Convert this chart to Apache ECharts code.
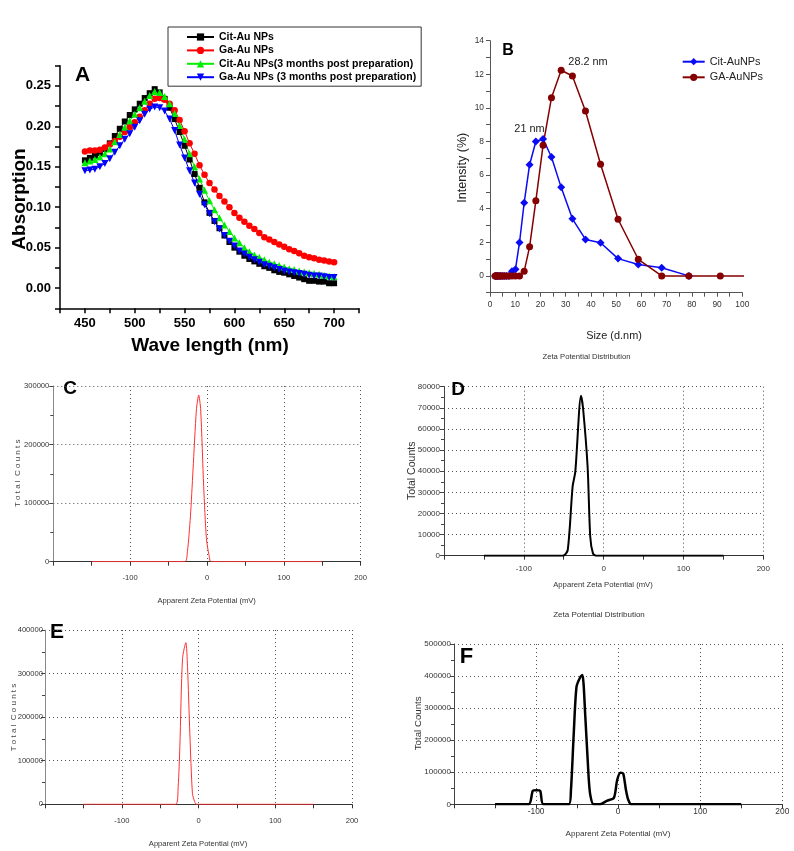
<!DOCTYPE html>
<html><head><meta charset="utf-8">
<script src="https://cdn.jsdelivr.net/npm/echarts@6/dist/echarts.min.js"></script>
<style>html,body{margin:0;padding:0;background:#fff}#c{width:794px;height:851px}</style>
</head><body><div id="c"></div>
<script>
// ---------- Panel A : UV-Vis absorption ----------
const wavelength = [450,455,460,465,470,475,480,485,490,495,500,505,510,515,520,525,530,535,540,545,550,555,560,565,570,575,580,585,590,595,600,605,610,615,620,625,630,635,640,645,650,655,660,665,670,675,680,685,690,695,700];
const absCitAu = [0.158,0.161,0.164,0.167,0.172,0.179,0.188,0.197,0.206,0.214,0.221,0.228,0.235,0.241,0.246,0.242,0.234,0.223,0.209,0.193,0.176,0.159,0.141,0.124,0.106,0.093,0.083,0.074,0.065,0.057,0.050,0.045,0.040,0.036,0.033,0.030,0.027,0.025,0.022,0.020,0.019,0.017,0.015,0.013,0.011,0.009,0.009,0.008,0.008,0.006,0.006];
const absGaAu = [0.169,0.170,0.170,0.171,0.174,0.178,0.182,0.187,0.193,0.199,0.205,0.212,0.220,0.228,0.234,0.235,0.233,0.228,0.220,0.208,0.194,0.179,0.166,0.152,0.140,0.130,0.122,0.114,0.107,0.100,0.093,0.087,0.082,0.077,0.073,0.068,0.063,0.060,0.057,0.054,0.051,0.048,0.046,0.043,0.040,0.038,0.037,0.035,0.034,0.033,0.032];
const absCitAu3m = [0.155,0.157,0.159,0.162,0.166,0.172,0.181,0.190,0.199,0.207,0.215,0.223,0.231,0.238,0.243,0.242,0.237,0.228,0.216,0.201,0.184,0.166,0.150,0.135,0.121,0.108,0.097,0.087,0.078,0.070,0.062,0.056,0.050,0.045,0.041,0.038,0.035,0.032,0.030,0.028,0.026,0.024,0.023,0.021,0.020,0.019,0.018,0.017,0.016,0.015,0.014];
const absGaAu3m = [0.145,0.146,0.147,0.150,0.154,0.160,0.168,0.176,0.184,0.191,0.199,0.207,0.215,0.221,0.224,0.223,0.219,0.209,0.195,0.177,0.161,0.145,0.130,0.116,0.103,0.092,0.082,0.073,0.065,0.058,0.052,0.046,0.042,0.038,0.035,0.032,0.029,0.027,0.025,0.023,0.021,0.020,0.019,0.018,0.017,0.016,0.015,0.015,0.014,0.013,0.013];
const namesA = ['Cit-Au NPs','Ga-Au NPs','Cit-Au NPs(3 months post preparation)','Ga-Au NPs (3 months post preparation)'];

// ---------- Panel B : DLS size distribution ----------
const dlsSize = [2.01,2.328,2.696,3.122,3.615,4.187,4.849,5.615,6.503,7.531,8.721,10.1,11.7,13.54,15.69,18.17,21.04,24.36,28.21,32.67,37.84,43.82,50.75,58.77,68.06,78.82,91.28,105.7];
const dlsCit = [0,0,0,0,0,0,0,0,0,0,0.28,0.4,1.99,4.35,6.62,8.0,8.15,7.08,5.27,3.4,2.17,1.97,1.03,0.68,0.48,0,null,null];
const dlsGA  = [0,0,0,0,0,0,0,0,0,0,0,0,0,0.27,1.73,4.47,7.78,10.6,12.24,11.9,9.82,6.65,3.37,0.99,0,0,0,0];
const namesB = ['Cit-AuNPs','GA-AuNPs'];

// ---------- Panels C-F : zeta potential ----------
const zetaC_mV     = [-150,-29,-25.5,-21.6,-18.2,-13.8,-10.8,-8.2,-4.3,-0.8,2.6,5.6,150];
const zetaC_counts = [0,0,17000,76800,156500,259000,284500,259000,128000,40000,11500,0,0];
const zetaD_mV     = [-150,-51,-45,-38.9,-35.5,-28.4,-25.8,-20.1,-16.8,-13.4,-9.6,150];
const zetaD_counts = [0,0,2700,32700,39800,75700,69800,42100,9000,1100,0,0];
const zetaE_mV     = [-150,-29.5,-26.5,-24.3,-20.8,-16.5,-14.3,-11.3,-7.9,-5,-2.4,150];
const zetaE_counts = [0,0,40000,132000,335000,371000,316000,163000,25000,6000,0,0];
const zetaF_mV     = [-150,-109,-104,-99.5,-95,-91,-60,-57.5,-54.1,-50.7,-45.9,-43.5,-40,-36,-34,-30,-22,-13.9,-5.2,-1.2,2.9,6.2,9.5,12.3,16,150];
const zetaF_counts = [0,0,42000,44000,42000,0,0,44600,221000,366800,398000,403000,273000,86000,30000,0,0,11000,20000,75800,98600,96000,44600,14000,0,0];

const zip = (xs, ys) => xs.map((x, i) => [x, ys[i]]);

const ARIAL = '"Liberation Sans", Arial, sans-serif';
// pick a narrow font if one is installed, otherwise scale Liberation Sans down to the same widths
function fontExists(fam){
  const c = document.createElement('canvas').getContext('2d');
  const s = 'Apparent Zeta Potential 0123456789';
  c.font = '20px monospace'; const w0 = c.measureText(s).width;
  c.font = '20px ' + fam + ', monospace'; const w1 = c.measureText(s).width;
  return Math.abs(w1 - w0) > 0.5;
}
let NARROW, NS;
if (fontExists('"Liberation Sans Narrow"')) { NARROW = '"Liberation Sans Narrow", sans-serif'; NS = 1; }
else { NARROW = ARIAL; NS = 0.84; }
const nf = s => Math.round(s * NS * 10) / 10;

function zetaX(grid, margin, fs){
  return {gridIndex:grid, type:'value', min:-200, max:200, interval:100,
    axisLine:{onZero:false, lineStyle:{color:'#333', width:1}},
    axisTick:{length:4, lineStyle:{color:'#333'}},
    minorTick:{show:true, splitNumber:2, length:4, lineStyle:{color:'#333'}},
    axisLabel:{formatter:v => v === -200 ? '' : String(v), fontFamily:NARROW, fontSize:nf(fs), color:'#333', margin:margin},
    splitLine:{show:true, lineStyle:{type:[1,3], color:'#555', width:1}}};
}
function zetaY(grid, max, interval, margin, fs, axisColor){
  return {gridIndex:grid, type:'value', min:0, max:max, interval:interval,
    axisLine:{show:true, onZero:false, lineStyle:{color:axisColor, width:1}},
    axisTick:{show:true, length:4, lineStyle:{color:'#444'}},
    minorTick:{show:true, splitNumber:2, length:3, lineStyle:{color:'#444'}},
    axisLabel:{formatter:v => String(v), fontFamily:NARROW, fontSize:nf(fs), color:'#333', margin:margin},
    splitLine:{show:true, lineStyle:{type:[1,3], color:'#555', width:1}}};
}
function txt(text, x, y, font, opts){
  opts = opts || {};
  return {type:'text', x:x, y:y, rotation:opts.rot || 0, silent:true,
    style:{text:text, font:font, fill:opts.fill || '#000', textAlign:'center', textVerticalAlign:'middle'}};
}
const nfont = s => nf(s) + 'px ' + NARROW;

const chart = echarts.init(document.getElementById('c'), null, {renderer:'canvas'});
const option = {
  backgroundColor:'#fff',
  animation:false,
  grid:[
    {left:60, top:65.7, width:299, height:242.6, outerBoundsMode:'none'},
    {left:490, top:40.7, width:252.3, height:252, outerBoundsMode:'none'},
    {left:53.3, top:386, width:307.4, height:175.7, outerBoundsMode:'none'},
    {left:444, top:386.7, width:319.3, height:169, outerBoundsMode:'none'},
    {left:45, top:630, width:307, height:174.3, outerBoundsMode:'none'},
    {left:454, top:644, width:328.3, height:160.3, outerBoundsMode:'none'}
  ],
  xAxis:[
    {gridIndex:0, type:'value', min:425, max:725, interval:25,
      axisLine:{onZero:false, lineStyle:{color:'#000', width:1.5}},
      axisTick:{length:5, lineStyle:{color:'#000', width:1.5}},
      axisLabel:{formatter:v => (v % 50 === 0) ? String(v) : '', fontFamily:ARIAL, fontWeight:'bold', fontSize:13, color:'#000', margin:9},
      splitLine:{show:false}},
    {gridIndex:1, type:'value', min:0, max:100, interval:5,
      axisLine:{onZero:false, lineStyle:{color:'#555', width:1}},
      axisTick:{length:4, lineStyle:{color:'#555'}},
      axisLabel:{formatter:v => (v % 10 === 0) ? String(v) : '', fontFamily:NARROW, fontSize:nf(10), color:'#333', margin:8},
      splitLine:{show:false}},
    zetaX(2, 12, 9),
    zetaX(3, 9, 9.5),
    zetaX(4, 13, 9),
    zetaX(5, 3, 10)
  ],
  yAxis:[
    {gridIndex:0, type:'value', min:-0.025, max:0.275, interval:0.025,
      axisLine:{show:true, onZero:false, lineStyle:{color:'#000', width:1.5}},
      axisTick:{show:true, length:5, lineStyle:{color:'#000', width:1.5}},
      axisLabel:{formatter:v => { const k = v / 0.05; if (Math.abs(k - Math.round(k)) > 1e-6 || v < -1e-9) return ''; return Math.abs(v) < 1e-9 ? '0.00' : v.toFixed(2); },
        fontFamily:ARIAL, fontWeight:'bold', fontSize:13, color:'#000', margin:9},
      splitLine:{show:false}},
    {gridIndex:1, type:'value', min:-1, max:14, interval:1,
      axisLine:{show:true, onZero:false, lineStyle:{color:'#555', width:1}},
      axisTick:{show:true, length:4, lineStyle:{color:'#555'}},
      axisLabel:{formatter:v => (v >= 0 && v % 2 === 0) ? String(v) : '', fontFamily:NARROW, fontSize:nf(10), color:'#333', margin:6},
      splitLine:{show:false}},
    zetaY(2, 300000, 100000, 4, 9, '#888'),
    zetaY(3, 80000, 10000, 4, 9.5, '#444'),
    zetaY(4, 400000, 100000, 2, 9, '#888'),
    zetaY(5, 500000, 100000, 3, 9.5, '#444')
  ],
  legend:[
    {data:namesA, orient:'vertical', left:168, top:27, padding:[4,5,3,18], itemGap:1.4,
      itemWidth:27, itemHeight:9, borderColor:'#333', borderWidth:1, selectedMode:false,
      textStyle:{fontFamily:ARIAL, fontWeight:'bold', fontSize:10.5, color:'#000', lineHeight:12}},
    {data:namesB, orient:'vertical', left:681.7, top:54.2, padding:0, itemGap:0.6,
      itemWidth:22, itemHeight:9, selectedMode:false,
      textStyle:{fontFamily:NARROW, fontSize:nf(13), color:'#222', lineHeight:15}}
  ],
  series:[
    {name:namesA[0], type:'line', xAxisIndex:0, yAxisIndex:0, data:zip(wavelength, absCitAu),
      symbol:'rect', symbolSize:6, showAllSymbol:true, color:'#000', lineStyle:{width:1, color:'#000'}},
    {name:namesA[1], type:'line', xAxisIndex:0, yAxisIndex:0, data:zip(wavelength, absGaAu),
      symbol:'circle', symbolSize:6.5, showAllSymbol:true, color:'#ff0000', lineStyle:{width:1, color:'#ff0000'}},
    {name:namesA[2], type:'line', xAxisIndex:0, yAxisIndex:0, data:zip(wavelength, absCitAu3m),
      symbol:'triangle', symbolSize:7, showAllSymbol:true, color:'#00ee00', lineStyle:{width:1, color:'#00ee00'}},
    {name:namesA[3], type:'line', xAxisIndex:0, yAxisIndex:0, data:zip(wavelength, absGaAu3m),
      symbol:'triangle', symbolRotate:180, symbolSize:7, showAllSymbol:true, color:'#0000ff', lineStyle:{width:1, color:'#0000ff'}},

    {name:namesB[0], type:'line', xAxisIndex:1, yAxisIndex:1, data:zip(dlsSize, dlsCit),
      symbol:'diamond', symbolSize:8, showAllSymbol:true, color:'#0a0af5', lineStyle:{width:1.5, color:'#0a0af5'}},
    {name:namesB[1], type:'line', xAxisIndex:1, yAxisIndex:1, data:zip(dlsSize, dlsGA),
      symbol:'circle', symbolSize:7, showAllSymbol:true, color:'#850000', lineStyle:{width:1.5, color:'#850000'}},

    {type:'line', xAxisIndex:2, yAxisIndex:2, data:zip(zetaC_mV, zetaC_counts), showSymbol:false, smooth:0.25,
      lineStyle:{width:1, color:'#ff3030'}},
    {type:'line', xAxisIndex:3, yAxisIndex:3, data:zip(zetaD_mV, zetaD_counts), showSymbol:false, smooth:0.25,
      lineStyle:{width:2, color:'#000'}},
    {type:'line', xAxisIndex:4, yAxisIndex:4, data:zip(zetaE_mV, zetaE_counts), showSymbol:false, smooth:0.25,
      lineStyle:{width:1, color:'#ff3030'}},
    {type:'line', xAxisIndex:5, yAxisIndex:5, data:zip(zetaF_mV, zetaF_counts), showSymbol:false, smooth:0.25,
      lineStyle:{width:2.5, color:'#000'}}
  ],
  graphic:[
    txt('A', 82.5, 75.5, 'bold 21px ' + ARIAL),
    txt('Absorption', 20, 199, 'bold 19px ' + ARIAL, {rot:Math.PI/2}),
    txt('Wave length (nm)', 210, 346, 'bold 19px ' + ARIAL),

    txt('B', 508, 51, 'bold 16px ' + ARIAL),
    txt('Intensity (%)', 463, 167.7, nfont(15), {rot:Math.PI/2, fill:'#222'}),
    txt('Size (d.nm)', 614, 335.7, nfont(13), {fill:'#222'}),
    txt('21 nm', 529.5, 129.3, nfont(13), {fill:'#222'}),
    txt('28.2 nm', 588, 61.7, nfont(13), {fill:'#222'}),

    txt('C', 70, 389, 'bold 19px ' + ARIAL),
    txt('T o t a l  C o u n t s', 17.5, 473.3, nfont(9.5), {rot:Math.PI/2, fill:'#444'}),
    txt('Apparent Zeta Potential (mV)', 206.7, 600.7, nfont(9), {fill:'#333'}),

    txt('Zeta Potential Distribution', 586.5, 357, nfont(9.2), {fill:'#333'}),
    txt('D', 458, 390, 'bold 19px ' + ARIAL),
    txt('Total Counts', 412.3, 470.8, nfont(12.5), {rot:Math.PI/2, fill:'#333'}),
    txt('Apparent Zeta Potential (mV)', 603, 585, nfont(9.2), {fill:'#333'}),

    txt('E', 57, 632.5, 'bold 21px ' + ARIAL),
    txt('T o t a l  C o u n t s', 13.5, 717.5, nfont(9.5), {rot:Math.PI/2, fill:'#444'}),
    txt('Apparent Zeta Potential (mV)', 198, 844, nfont(9), {fill:'#333'}),

    txt('Zeta Potential Distribution', 599, 615, nfont(9.5), {fill:'#333'}),
    txt('F', 466.5, 657, 'bold 22px ' + ARIAL),
    txt('Total Counts', 418, 723.3, nfont(11.5), {rot:Math.PI/2, fill:'#333'}),
    txt('Apparent Zeta Potential (mV)', 618, 834, nfont(9.6), {fill:'#333'})
  ]
};
chart.setOption(option);
</script>
</body></html>
